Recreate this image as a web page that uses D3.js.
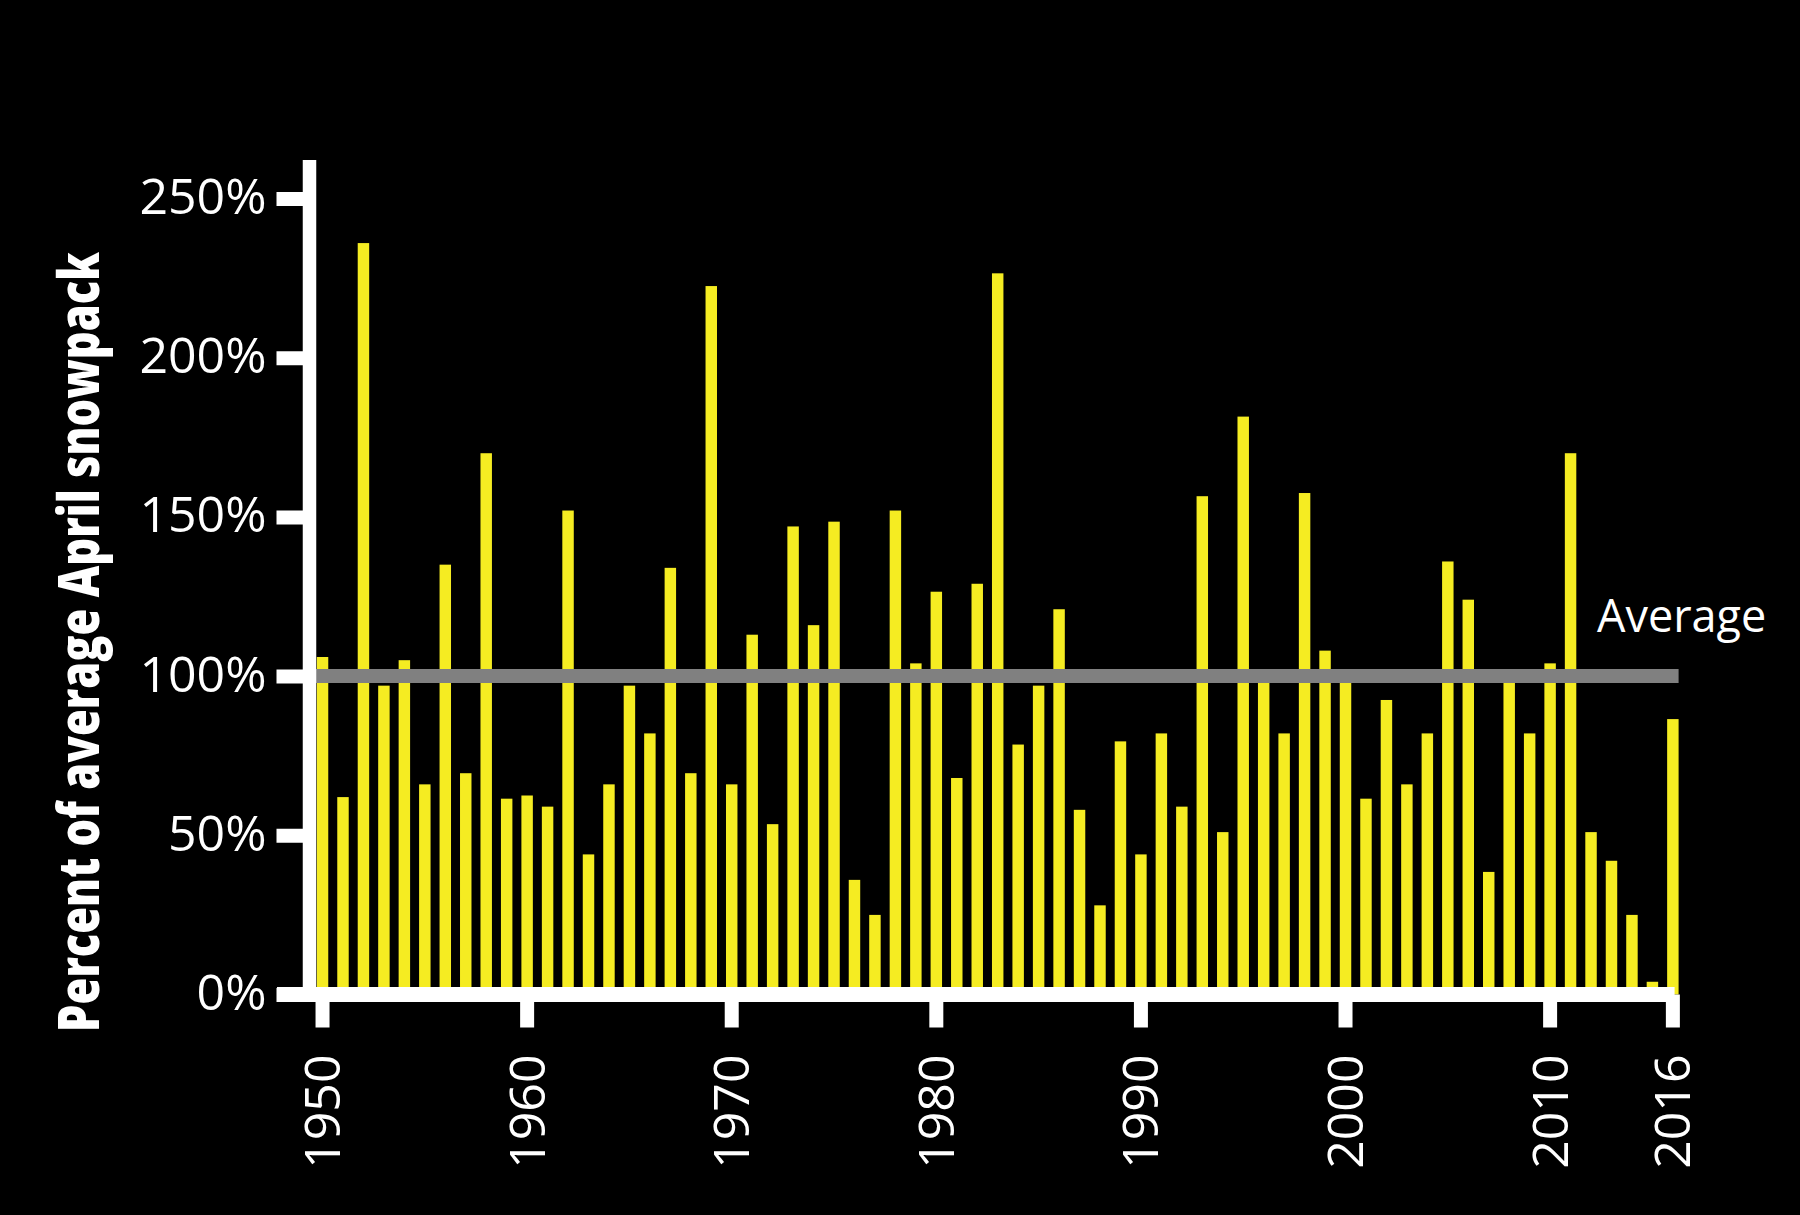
<!DOCTYPE html>
<html>
<head>
<meta charset="utf-8">
<script src="https://cdn.jsdelivr.net/npm/d3@7"></script>
<style>
  html, body { margin: 0; padding: 0; background: #000; }
  svg { display: block; }
</style>
</head>
<body>
<svg id="chart" width="1800" height="1215"></svg>
<script>
// ---- data ----
const years = d3.range(1950, 2017);
const snowpack = [
  106, 62, 236, 97, 105, 66, 135, 69.5, 170, 61.5,
  62.5, 59, 152, 44, 66, 97, 82, 134, 69.5, 222.5,
  66, 113, 53.5, 147, 116, 148.5, 36, 25, 152, 104,
  126.5, 68, 129, 226.5, 78.5, 97, 121, 58, 28, 79.5,
  44, 82, 59, 156.5, 51, 181.5, 98.5, 82, 157.5, 108,
  99, 61.5, 92.5, 66, 82, 136, 124, 38.5, 100, 82,
  104, 170, 51, 42, 25, 4, 86.5
];
const yTicks = [0, 50, 100, 150, 200, 250];
const xTicks = [1950, 1960, 1970, 1980, 1990, 2000, 2010, 2016];
const averageValue = 100;
const yTitle = "Percent of average April snowpack";
const avgLabel = "Average";

// ---- layout ----
const svg = d3.select("#chart");
const axisX = 309.5;      // y-axis line centre
const axisW = 13.5;
const baseY = 994.5;      // x-axis line centre
const baseW = 15;
const labelFont = "'Open Sans', 'Noto Sans', sans-serif";

const x = d3.scaleBand()
  .domain(years)
  .range([312.3, 1683.1])
  .paddingInner(0.44)
  .paddingOuter(0.22);

const y = d3.scaleLinear().domain([0, 250]).range([baseY, 198.5]);

// bars
svg.append("g")
  .selectAll("rect")
  .data(years.map((yr, i) => ({ yr, v: snowpack[i] })))
  .join("rect")
  .attr("x", d => x(d.yr))
  .attr("width", x.bandwidth())
  .attr("y", d => y(d.v))
  .attr("height", d => y(0) - y(d.v))
  .attr("fill", "#f5ec22");

// average line
const xEnd = x(2016) + x.bandwidth();
svg.append("line")
  .attr("x1", axisX).attr("x2", xEnd)
  .attr("y1", y(averageValue)).attr("y2", y(averageValue))
  .attr("stroke", "#808080").attr("stroke-width", 14);

svg.append("text")
  .attr("x", 1597).attr("y", y(averageValue) - 44)
  .attr("fill", "#fff")
  .attr("font-family", labelFont)
  .attr("font-size", 45)
  .attr("font-weight", 500)
  .text(avgLabel);

// y axis (ticks + labels)
const yAxis = d3.axisLeft(y)
  .tickValues(yTicks)
  .tickFormat(d => d + "%")
  .tickSizeInner(33)
  .tickSizeOuter(0)
  .tickPadding(10);
const gy = svg.append("g").attr("transform", `translate(${axisX},0)`).call(yAxis);
gy.select(".domain").remove();
gy.selectAll(".tick line").attr("stroke", "#fff").attr("stroke-width", 14);
gy.selectAll(".tick text")
  .attr("fill", "#fff")
  .attr("font-family", labelFont)
  .attr("font-size", 50)
  .attr("font-weight", 500)
  .attr("dy", "0.3em");

// x axis (ticks + labels)
const xAxis = d3.axisBottom(x)
  .tickValues(xTicks)
  .tickSizeInner(33)
  .tickSizeOuter(0)
  .tickPadding(28);
const gx = svg.append("g").attr("transform", `translate(0,${baseY})`).call(xAxis);
gx.select(".domain").remove();
gx.selectAll(".tick line").attr("stroke", "#fff").attr("stroke-width", 14);
gx.selectAll(".tick text")
  .attr("fill", "#fff")
  .attr("font-family", labelFont)
  .attr("font-size", 50)
  .attr("font-weight", 500)
  .attr("transform", "rotate(-90)")
  .attr("text-anchor", "end")
  .attr("x", -60)
  .attr("y", 0)
  .attr("dy", "0.35em");

// axis lines
svg.append("line")
  .attr("x1", axisX).attr("x2", axisX)
  .attr("y1", 160).attr("y2", baseY + baseW / 2)
  .attr("stroke", "#fff").attr("stroke-width", axisW);
svg.append("line")
  .attr("x1", 277).attr("x2", xEnd - 4)
  .attr("y1", baseY).attr("y2", baseY)
  .attr("stroke", "#fff").attr("stroke-width", baseW);

// y title (condensed bold)
const title = svg.append("g")
  .attr("transform", "translate(99,642) rotate(-90)");
const tt = title.append("text")
  .attr("text-anchor", "middle")
  .attr("fill", "#fff")
  .attr("font-family", "'Open Sans', 'Noto Sans', sans-serif")
  .attr("font-weight", 800)
  .attr("font-size", 56)
  .text(yTitle);
const len = tt.node().getComputedTextLength();
tt.attr("transform", `scale(${780 / len},1)`);
</script>
</body>
</html>
